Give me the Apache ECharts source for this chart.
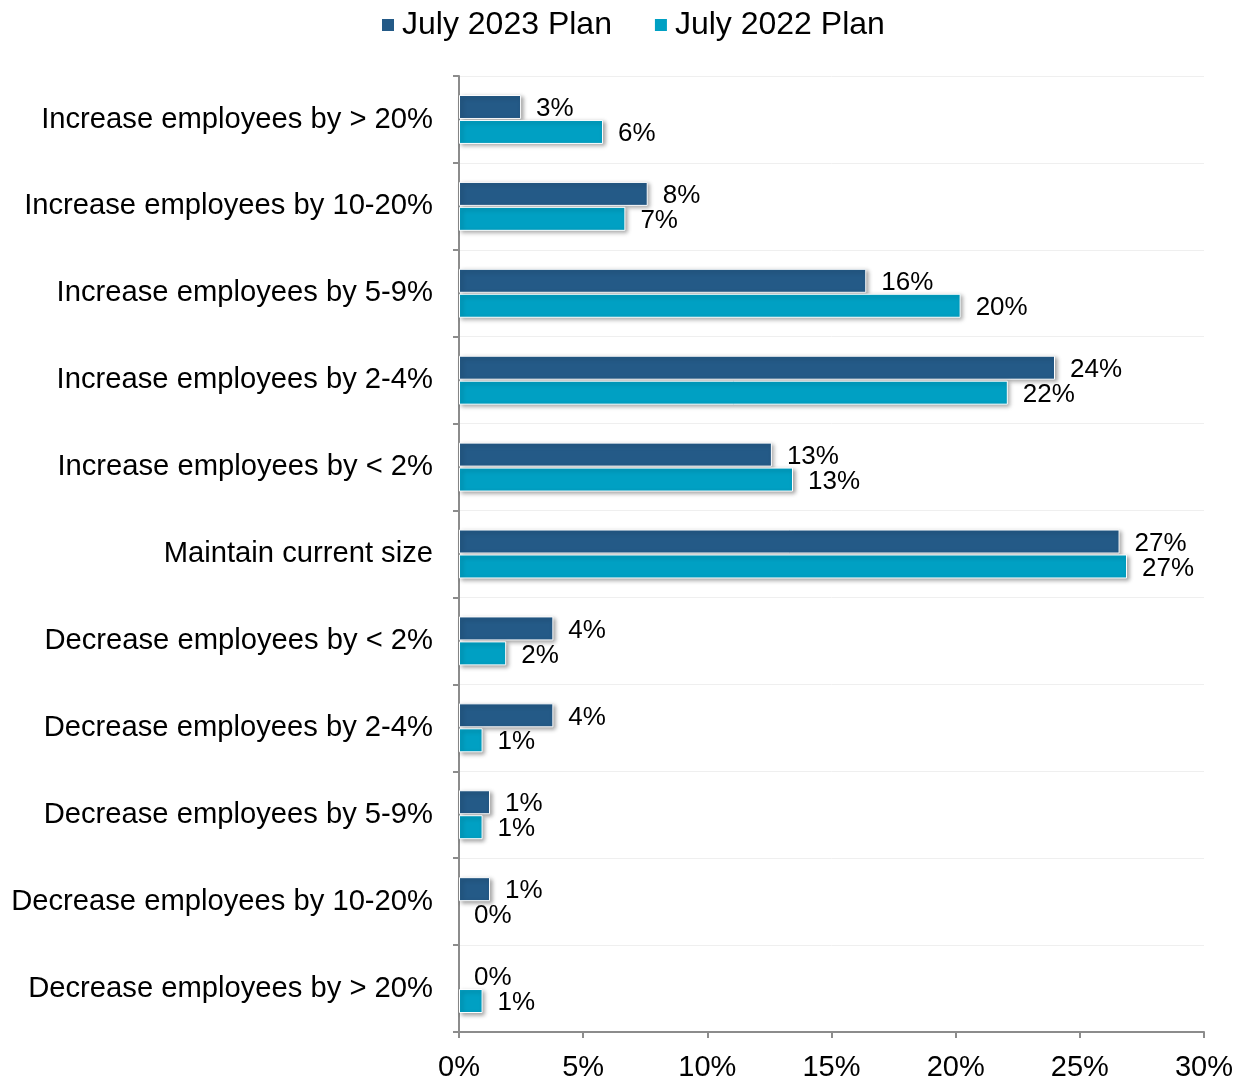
<!DOCTYPE html>
<html>
<head>
<meta charset="utf-8">
<title>Headcount plans</title>
<script src="https://cdn.jsdelivr.net/npm/echarts@6/dist/echarts.min.js"></script>
<style>
  html, body { margin: 0; padding: 0; background: #fff; }
  #chart { width: 1234px; height: 1079px; }
</style>
</head>
<body>
<div id="chart"></div>
<script>
// Categories, top to bottom
const categories = [
  'Increase employees by > 20%',
  'Increase employees by 10-20%',
  'Increase employees by 5-9%',
  'Increase employees by 2-4%',
  'Increase employees by < 2%',
  'Maintain current size',
  'Decrease employees by < 2%',
  'Decrease employees by 2-4%',
  'Decrease employees by 5-9%',
  'Decrease employees by 10-20%',
  'Decrease employees by > 20%'
];

// Share of respondents (%)
const plan2023 = [2.5, 7.6, 16.4, 24.0, 12.6, 26.6, 3.8, 3.8, 1.25, 1.25, 0];
const plan2022 = [5.8, 6.7, 20.2, 22.1, 13.45, 26.9, 1.9, 0.95, 0.95, 0, 0.95];

const seriesNames = ['July 2023 Plan', 'July 2022 Plan'];
const seriesColors = ['#245A87', '#00A0C3'];

// x-axis ticks
const xMin = 0, xMax = 30, xStep = 5;

const font = 'Liberation Sans, Arial, sans-serif';

const chart = echarts.init(document.getElementById('chart'), null, { renderer: 'canvas' });

function barSeries(name, data, color) {
  return {
    name: name,
    type: 'bar',
    // zero-length bars get no border or shadow so only their label remains
    data: data.map(v => v === 0
      ? { value: v, itemStyle: { borderWidth: 0, shadowColor: 'rgba(0,0,0,0)' } }
      : v),
    barWidth: 24,
    barGap: '4%',
    itemStyle: {
      color: color,
      borderColor: '#ffffff',
      borderWidth: 1,
      shadowColor: 'rgba(0,0,0,0.35)',
      shadowBlur: 4,
      shadowOffsetX: 2,
      shadowOffsetY: 2
    },
    label: {
      show: true,
      position: 'right',
      distance: 15,
      offset: [0, 2],
      color: '#000',
      fontFamily: font,
      fontSize: 26,
      formatter: p => Math.round(p.value) + '%'
    },
    z: 3
  };
}

chart.setOption({
  animation: false,
  backgroundColor: '#ffffff',
  legend: {
    top: 4,
    left: 375,
    itemWidth: 14,
    itemHeight: 14,
    itemGap: 41,
    icon: 'rect',
    textStyle: {
      color: '#000',
      fontFamily: font,
      fontSize: 32,
      padding: [0, 0, 0, 2]
    },
    data: seriesNames
  },
  grid: {
    left: 459,
    right: 30,
    top: 76,
    bottom: 47,
    containLabel: false,
    outerBoundsMode: 'none'
  },
  xAxis: {
    type: 'value',
    min: xMin,
    max: xMax,
    interval: xStep,
    axisLine: { show: true, lineStyle: { color: '#8c8c8c', width: 2 } },
    axisTick: { show: true, length: 6, lineStyle: { color: '#8c8c8c', width: 2 } },
    splitLine: { show: false },
    axisLabel: {
      color: '#000',
      fontFamily: font,
      fontSize: 29,
      margin: 21,
      formatter: v => v + '%'
    }
  },
  yAxis: {
    type: 'category',
    data: categories,
    inverse: true,
    axisLine: { show: true, lineStyle: { color: '#8c8c8c', width: 2 } },
    axisTick: { show: true, length: 6, lineStyle: { color: '#8c8c8c', width: 2 } },
    splitLine: { show: true, lineStyle: { color: '#efefef', width: 1 } },
    axisLabel: {
      color: '#000',
      fontFamily: font,
      fontSize: 29.2,
      margin: 26,
      padding: [7, 0, 0, 0]
    }
  },
  series: [
    barSeries(seriesNames[0], plan2023, seriesColors[0]),
    barSeries(seriesNames[1], plan2022, seriesColors[1])
  ]
});
</script>
</body>
</html>
